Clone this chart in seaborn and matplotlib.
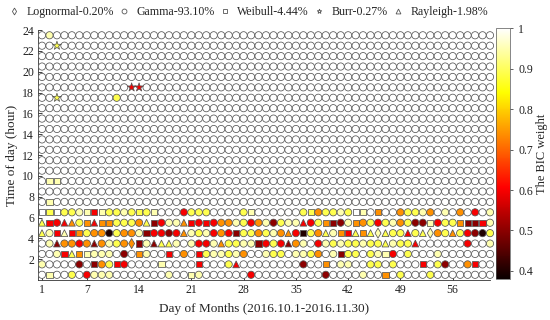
import numpy as np
import pandas as pd
import matplotlib
matplotlib.use("Agg")
import matplotlib.pyplot as plt
from matplotlib.lines import Line2D
from matplotlib.colors import Normalize
from matplotlib.cm import ScalarMappable
import seaborn as sns

N_DAYS = 61
N_HOURS = 24

# distribution codes used in the row strings
DIST_CODES = ["D", "O", "S", "B", "R"]
DIST_NAMES = ["Lognormal", "Gamma", "Weibull", "Burr", "Rayleigh"]
DIST_SHARES = ["0.20%", "93.10%", "4.44%", "0.27%", "1.98%"]

# BIC weight levels
WEIGHT_LEVELS = {"w": 1.0, "p": 0.95, "y": 0.89, "o": 0.74, "r": 0.6, "d": 0.5, "k": 0.4}

X_TICKS = [1, 7, 14, 21, 28, 35, 42, 49, 56]
Y_TICKS = list(range(2, 25, 2))
CBAR_TICKS = [0.4, 0.5, 0.6, 0.7, 0.8, 0.9, 1.0]

# busy hours (0..6), one char per day, grouped by 10 days
ROW_SHAPES = {
    6: "SSSOOOSSSO|OOOSOSOOOO|OOOOOOOOSO|OOOOOOSOOO|OOSSOSOOOO|OOOOOOOOOO|O",
    5: "RSORROSRSS|OOOORSOOOR|SOSOOOOOOO|OOOOOROOSS|OOSOOOOOOO|OOSOOOSSSS|O",
    4: "ROSRSSOOOO|OOOOSOOOOR|OOOOOOSOOO|OOOROSOORO|SSRSRDROOR|ORDOOROOOO|O",
    3: "OOROOOOROO|OODSORRROO|OOOOROOOOS|OOOROOOOOO|OOOOOOROOO|ROOOOOOOOO|O",
    2: "OOOSRSSOOO|OOOSOOOSOO|OSOOOOOOOO|OOOOOOOOOO|SOOOOOSOOO|OOOOOOOOOO|O",
    1: "OOOOOOOSOO|SOOOOOSOOO|OSOOOOROOO|OOOOOOOOSO|OOOOOOOOOO|OSOOOOOOSO|O",
    0: "OSOOOOOOOO|OOOOOOOOOO|SOOOOOOOOO|OOOOOOOOOO|OOOOOOSOOO|OOOOOOOOOO|O",
}
ROW_WEIGHTS = {
    6: "wywyypprpy|ypyyypwwwr|yyywwwwypw|wwwwwyyoyy|pywpwowwoy|ypowpwowrw|p",
    5: "yrrroyoroo|yyyoydrppo|rrrroopyro|pdypprryod|dpooyrypoy|ddpryyoddr|p",
    4: "yprproyook|yoopdrrdro|pyprordyyo|ypoorkyoyp|oryoypyyyr|yypoyoyrdk|y",
    3: "wpdoorodop|yoodpdyypw|prrpoyyppd|ryrdopwrpy|pyypyyypyy|rwwwwwwrww|p",
    2: "wwpryopppp|wdwopwwrwo|wryppypoww|pyywppyowp|dyywypprwy|wwwpwwwwww|w",
    1: "pwwwwdwdoy|rrwwwwpwww|wrwwwyrwww|wwwwwdwwow|ppwwyywyww|wrwydwworw|w",
    0: "wpwwywrppp|wwwwwwwpww|ppwwwwwwrw|wwwwwwwwdw|wwwpwwowyw|wwywwwwwww|w",
}

# the few non-gamma / coloured cells in the quiet hours: (hour, day, dist, weight)
SPARSE = [
    (7, 2, "S", "p"),
    (9, 2, "S", "p"), (9, 3, "S", "p"),
    (17, 3, "B", "y"), (17, 11, "O", "y"),
    (18, 13, "B", "r"), (18, 14, "B", "r"),
    (22, 3, "B", "y"),
    (23, 2, "O", "p"),
]

MARKERS = {"D": "d", "O": "o", "S": "s", "B": "*", "R": "^"}
SIZES = {"D": 26, "O": 27, "S": 20, "B": 42, "R": 24}
EDGE = "#555555"

records = []
for h in range(N_HOURS):
    shapes = ROW_SHAPES.get(h, "O" * N_DAYS).replace("|", "")
    weights = ROW_WEIGHTS.get(h, "w" * N_DAYS).replace("|", "")
    assert len(shapes) == N_DAYS and len(weights) == N_DAYS, h
    for d in range(N_DAYS):
        records.append((d + 1, h + 0.5, shapes[d], WEIGHT_LEVELS[weights[d]]))
df = pd.DataFrame(records, columns=["day", "hour", "dist", "weight"])
for h, d, s, w in SPARSE:
    m = (df["day"] == d) & (df["hour"] == h + 0.5)
    df.loc[m, "dist"] = s
    df.loc[m, "weight"] = WEIGHT_LEVELS[w]

sns.set_style("ticks")
plt.rcParams["font.family"] = ["Liberation Serif", "DejaVu Serif"]

norm = Normalize(vmin=0.38, vmax=1.0)
fig = plt.figure(figsize=(5.5, 3.2), dpi=100)
ax = fig.add_axes([0.0696, 0.125, 0.822, 0.781])

for code in ["O", "S", "D", "R", "B"]:
    sub = df[df["dist"] == code]
    if sub.empty:
        continue
    sns.scatterplot(data=sub, x="day", y="hour", hue="weight", palette="hot",
                    hue_norm=norm, marker=MARKERS[code], s=SIZES[code],
                    edgecolor=EDGE, linewidth=0.55, legend=False, ax=ax,
                    clip_on=False, zorder=3)

ax.set_xlim(0.5, 61.05)
ax.set_ylim(0, 24)
ax.set_xticks(X_TICKS)
ax.set_yticks(Y_TICKS)
ax.tick_params(direction="in", length=3, width=0.6, labelsize=8.5,
               colors="#222222", pad=3)
for side in ["top", "right"]:
    ax.spines[side].set_visible(False)
for side in ["left", "bottom"]:
    ax.spines[side].set_linewidth(0.6)
    ax.spines[side].set_color("#333333")
ax.set_xlabel("Day of Months (2016.10.1-2016.11.30)", fontsize=9.5, labelpad=5)
ax.set_ylabel("Time of day (hour)", fontsize=9.5, labelpad=3)

cax = fig.add_axes([0.902, 0.128, 0.026, 0.784])
sm = ScalarMappable(norm=norm, cmap="hot")
cb = fig.colorbar(sm, cax=cax, ticks=CBAR_TICKS)
cb.ax.set_yticklabels(["0.4", "0.5", "0.6", "0.7", "0.8", "0.9", "1"])
cb.ax.tick_params(labelsize=8.5, length=2, width=0.5, colors="#222222")
cb.outline.set_linewidth(0.5)
cb.outline.set_edgecolor("#555555")
cb.set_label("The BIC weight", fontsize=9, labelpad=2)

handles = []
for code, name, share in zip(DIST_CODES, DIST_NAMES, DIST_SHARES):
    handles.append(Line2D([], [], marker=MARKERS[code], ls="", mfc="white",
                          mec=EDGE, mew=0.6, ms=3.5, label=f"{name}-{share}"))
fig.legend(handles=handles, loc="upper center", bbox_to_anchor=(0.45, 1.015),
           ncol=5, frameon=False, fontsize=8.6, handletextpad=0.45,
           columnspacing=0.25, handlelength=1.2)

fig.savefig("out.png", dpi=100)
